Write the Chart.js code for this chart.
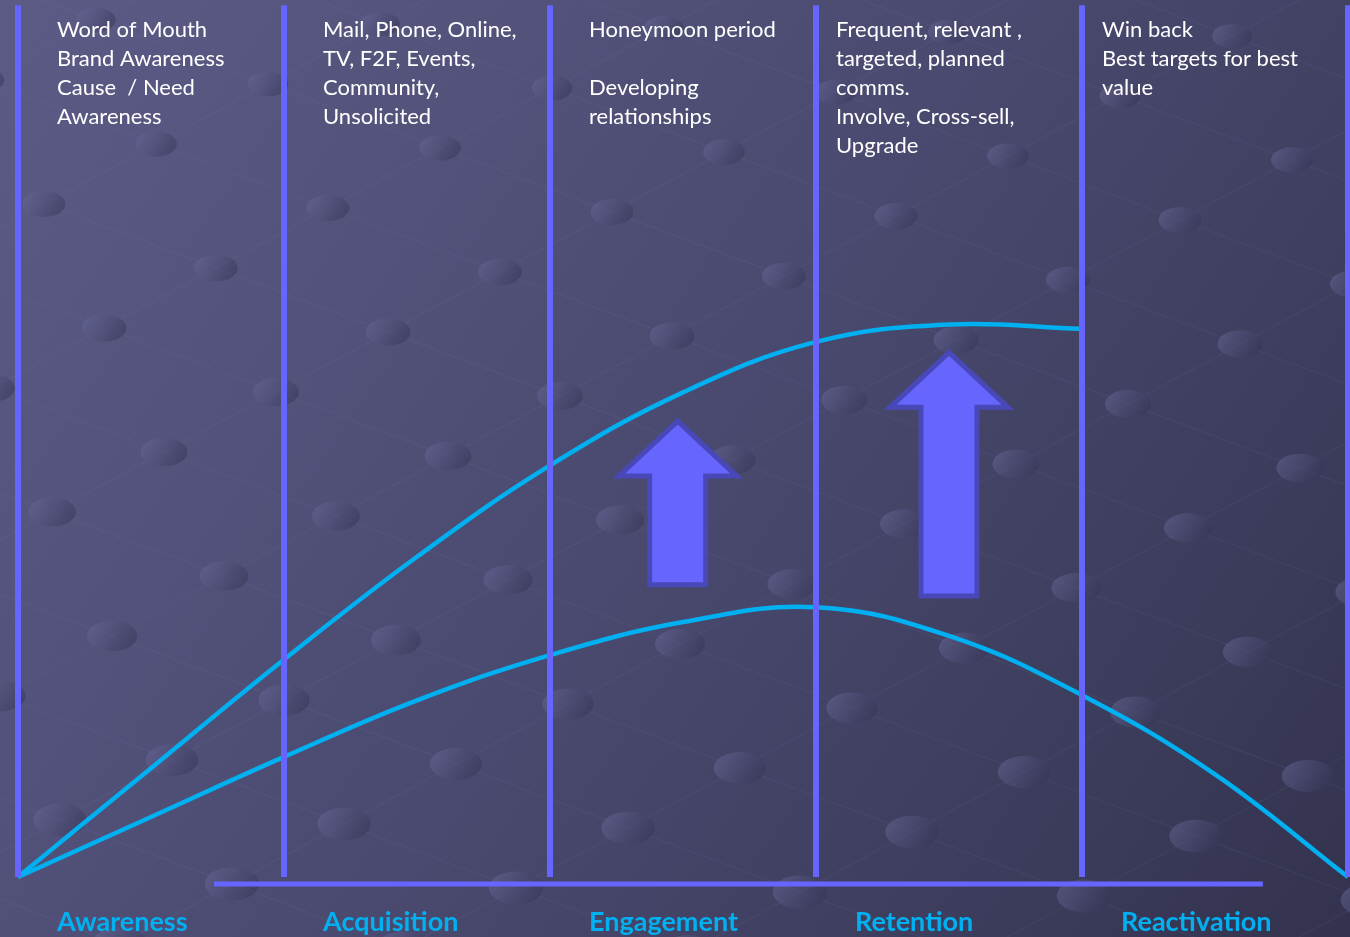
<!DOCTYPE html>
<html>
<head>
<meta charset="utf-8">
<title>Customer lifecycle</title>
<script src="https://cdn.jsdelivr.net/npm/chart.js@4/dist/chart.umd.min.js"></script>
<style>
  html, body { margin: 0; padding: 0; background: #4a4a6e; overflow: hidden; }
  canvas { display: block; }
</style>
</head>
<body>
<canvas id="lifecycle" width="1350" height="937"></canvas>
<script>
// stages along the x axis (one column per stage)
const stages = ['Awareness', 'Acquisition', 'Engagement', 'Retention', 'Reactivation'];

const notes = [
  ['Word of Mouth', 'Brand Awareness', 'Cause  / Need', 'Awareness'],
  ['Mail, Phone, Online,', 'TV, F2F, Events,', 'Community,', 'Unsolicited'],
  ['Honeymoon period', '', 'Developing', 'relationships'],
  ['Frequent, relevant ,', 'targeted, planned', 'comms.', 'Involve, Cross-sell,', 'Upgrade'],
  ['Win back', 'Best targets for best', 'value']
];

// curve samples, x in stage units
const upperX = [0, 0.5, 1, 1.5, 2, 2.5, 3, 3.5, 4];
const upperY = [0, 12.5, 25.0, 36.8, 47.3, 55.7, 61.5, 63.5, 63.0];

const lowerX = [0, 0.5, 1, 1.5, 2, 2.5, 3, 3.5, 4, 4.5, 5];
const lowerY = [0, 6.9, 13.8, 20.3, 25.5, 29.3, 31.0, 27.7, 20.9, 11.8, 0];

// uplift arrows: stage position, start and end value
const arrowX = [2.48, 3.5];
const arrowFrom = [33.6, 32.3];
const arrowTo = [52.4, 60.3];

const dividerTop = 100.2;
const baseY = -0.8;
const baseFrom = 0.737;
const baseTo = 4.68;

const toPoints = (xs, ys) => xs.map((x, i) => ({ x: x, y: ys[i] }));

const dividers = [];
for (let i = 0; i <= stages.length; i++) {
  dividers.push({ x: i, y: 0 }, { x: i, y: dividerTop }, { x: i, y: NaN });
}

const background = {
  id: 'background',
  beforeDraw(chart) {
    const ctx = chart.ctx;
    const w = chart.width, h = chart.height;
    ctx.save();
    const g = ctx.createLinearGradient(0, 0, w, h);
    g.addColorStop(0, '#5b5b86');
    g.addColorStop(0.5, '#4a4a70');
    g.addColorStop(1, '#33334f');
    ctx.fillStyle = g;
    ctx.fillRect(0, 0, w, h);

    // faint dotted lattice
    const u = { x: 112, y: -60 }, v = { x: 172, y: 64 };
    const ox = 112, oy = 636;
    ctx.strokeStyle = 'rgba(140,140,190,0.08)';
    ctx.lineWidth = 1.5;
    for (let i = -12; i <= 14; i++) {
      ctx.beginPath();
      ctx.moveTo(ox + i * u.x - 10 * v.x, oy + i * u.y - 10 * v.y);
      ctx.lineTo(ox + i * u.x + 10 * v.x, oy + i * u.y + 10 * v.y);
      ctx.stroke();
    }
    for (let j = -10; j <= 10; j++) {
      ctx.beginPath();
      ctx.moveTo(ox - 12 * u.x + j * v.x, oy - 12 * u.y + j * v.y);
      ctx.lineTo(ox + 14 * u.x + j * v.x, oy + 14 * u.y + j * v.y);
      ctx.stroke();
    }
    for (let i = -12; i <= 14; i++) {
      for (let j = -10; j <= 10; j++) {
        const px = ox + i * u.x + j * v.x;
        const py = oy + i * u.y + j * v.y;
        if (px < -60 || px > w + 60 || py < -40 || py > h + 40) continue;
        const s = 0.85 + 0.35 * (py / h);
        const rx = 23 * s, ry = 14 * s;
        const dg = ctx.createLinearGradient(px - rx, py - ry, px + rx, py + ry);
        dg.addColorStop(0, 'rgba(110,110,160,0.5)');
        dg.addColorStop(1, 'rgba(45,45,75,0.5)');
        ctx.fillStyle = dg;
        ctx.beginPath();
        ctx.ellipse(px, py, rx, ry, 0, 0, Math.PI * 2);
        ctx.fill();
      }
    }
    ctx.restore();
  }
};

const annotations = {
  id: 'annotations',
  afterDatasetsDraw(chart) {
    const ctx = chart.ctx;
    const xs = chart.scales.x, ys = chart.scales.y;
    ctx.save();

    // arrows
    arrowX.forEach((ax, i) => {
      const cx = xs.getPixelForValue(ax);
      const top = ys.getPixelForValue(arrowTo[i]);
      const bottom = ys.getPixelForValue(arrowFrom[i]);
      const headH = 55, headW = 59, shaftW = 28;
      ctx.beginPath();
      ctx.moveTo(cx, top);
      ctx.lineTo(cx + headW, top + headH);
      ctx.lineTo(cx + shaftW, top + headH);
      ctx.lineTo(cx + shaftW, bottom);
      ctx.lineTo(cx - shaftW, bottom);
      ctx.lineTo(cx - shaftW, top + headH);
      ctx.lineTo(cx - headW, top + headH);
      ctx.closePath();
      ctx.fillStyle = '#6666ff';
      ctx.fill();
      ctx.lineWidth = 5;
      ctx.lineJoin = 'miter';
      ctx.strokeStyle = '#4848b8';
      ctx.stroke();
    });

    // column notes
    ctx.fillStyle = '#ffffff';
    ctx.font = '22px Lato';
    ctx.textBaseline = 'alphabetic';
    ctx.textAlign = 'left';
    const indent = [39, 39, 39, 20, 20];
    notes.forEach((lines, c) => {
      const x0 = xs.getPixelForValue(c) + indent[c];
      lines.forEach((t, k) => ctx.fillText(t, x0, 37 + k * 29));
    });

    // stage names under the baseline
    ctx.fillStyle = '#00b0f0';
    ctx.font = 'bold 27px Lato';
    stages.forEach((s, c) => {
      ctx.fillText(s, xs.getPixelForValue(c) + 39, 931);
    });
    ctx.restore();
  }
};

new Chart(document.getElementById('lifecycle'), {
  type: 'line',
  data: {
    datasets: [
      {
        label: 'dividers',
        data: dividers,
        borderColor: '#6666ff',
        borderWidth: 6,
        pointRadius: 0,
        spanGaps: false,
        tension: 0
      },
      {
        label: 'baseline',
        data: [{ x: baseFrom, y: baseY }, { x: baseTo, y: baseY }],
        borderColor: '#6666ff',
        borderWidth: 5,
        pointRadius: 0,
        tension: 0
      },
      {
        label: 'upper',
        data: toPoints(upperX, upperY),
        borderColor: '#00b0f0',
        borderWidth: 4.5,
        pointRadius: 0,
        tension: 0.4
      },
      {
        label: 'lower',
        data: toPoints(lowerX, lowerY),
        borderColor: '#00b0f0',
        borderWidth: 4.5,
        pointRadius: 0,
        tension: 0.4
      }
    ]
  },
  options: {
    responsive: false,
    animation: false,
    devicePixelRatio: 1,
    layout: { padding: 0 },
    plugins: {
      legend: { display: false },
      tooltip: { enabled: false }
    },
    scales: {
      x: { type: 'linear', min: -0.0677, max: 5.0075, display: false },
      y: { type: 'linear', min: -6.9, max: 100.8, display: false }
    }
  },
  plugins: [background, annotations]
});
</script>
</body>
</html>
